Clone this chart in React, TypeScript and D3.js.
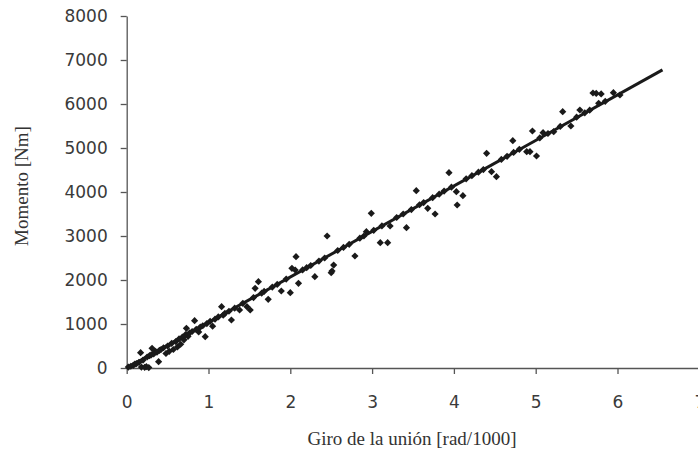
import React, { useEffect, useRef } from "react";
import * as d3 from "d3";

// Giro (rad/1000) and Momento (Nm)
const giro = [
  0.02, 0.05, 0.08, 0.1, 0.12, 0.15, 0.17, 0.18, 0.2, 0.22, 0.24, 0.25, 0.27, 0.28, 0.3, 0.31, 0.33, 0.35, 0.37, 0.39, 0.4, 0.42, 0.45, 0.48, 0.5,
  0.52, 0.55, 0.57, 0.6, 0.62, 0.64, 0.66, 0.68, 0.7, 0.72, 0.73, 0.75, 0.77, 0.8, 0.83, 0.85, 0.88, 0.9, 0.93, 0.96, 0.98,
  1.02, 1.05, 1.08, 1.12, 1.16, 1.18, 1.2, 1.25, 1.28, 1.32, 1.38, 1.42, 1.47, 1.51, 1.55, 1.57, 1.61, 1.65, 1.68, 1.73, 1.78, 1.84, 1.89, 1.95, 2.0, 2.02, 2.06, 2.07, 2.1,
  2.15, 2.2, 2.25, 2.3, 2.35, 2.42, 2.45, 2.5, 2.51, 2.53, 2.58, 2.65, 2.72, 2.79, 2.85, 2.9, 2.93, 2.99, 3.02,
  3.1, 3.12, 3.19, 3.22, 3.3, 3.38, 3.42, 3.48, 3.54, 3.58, 3.63, 3.68, 3.74, 3.77, 3.82, 3.88, 3.94, 3.97, 4.03, 4.04, 4.11,
  4.15, 4.22, 4.3, 4.36, 4.4, 4.46, 4.52, 4.58, 4.65, 4.72, 4.73, 4.8, 4.89, 4.93, 4.96, 5.01, 5.05,
  5.09, 5.15, 5.22, 5.3, 5.33, 5.43, 5.5, 5.54, 5.6, 5.66, 5.7, 5.74, 5.77, 5.8, 5.85, 5.95, 6.03,
];
const momento = [
  20, 40, 60, 90, 100, 130, 348, 20, 180, 15, 30, 250, 10, 280, 300, 447, 320, 380, 360, 144, 400, 420, 460, 330, 500,
  380, 560, 420, 600, 480, 660, 540, 700, 640, 760, 902, 720, 800, 830, 1075, 880, 820, 930, 960, 712, 1010,
  1060, 950, 1110, 1160, 1393, 1200, 1240, 1290, 1091, 1360, 1318, 1470, 1393, 1318, 1600, 1811, 1962, 1700, 1740, 1561, 1840, 1900, 1750, 2020, 1711, 2266, 2227, 2530, 1925,
  2230, 2280, 2330, 2075, 2430, 2500, 3000, 2166, 2205, 2340, 2670, 2740, 2810, 2545, 2950, 3000, 3098, 3516, 3130,
  2848, 3230, 2848, 3227, 3420, 3500, 3189, 3600, 4030, 3710, 3760, 3630, 3870, 3500, 3950, 4020, 4439, 4110, 4008, 3705, 3917,
  4300, 4370, 4450, 4510, 4880, 4462, 4348, 4740, 4810, 5166, 4900, 4970, 4917, 4917, 5386, 4818, 5230,
  5348, 5330, 5370, 5490, 5825, 5500, 5700, 5864, 5800, 5860, 6250, 6240, 6015, 6230, 6060, 6257, 6205,
];

// trend line end points
const trendX = [0, 6.55];
const trendY = [0, 6775];

const xTicks = [0, 1, 2, 3, 4, 5, 6, 7];
const yTicks = [0, 1000, 2000, 3000, 4000, 5000, 6000, 7000, 8000];

const App = () => {
  const ref = useRef<SVGSVGElement>(null);

  useEffect(() => {
    const svg = d3.select(ref.current);
    svg.selectAll("*").remove();

    const x = d3.scaleLinear().domain([0, 7]).range([126.7, 126.7 + 7 * 81.8]);
    const y = d3.scaleLinear().domain([0, 8000]).range([368, 16]);

    const axisColor = "#555";
    const labelFont = "DejaVu Sans, Verdana, sans-serif";

    // y axis
    const gy = svg
      .append("g")
      .attr("transform", `translate(${x(0)},0)`)
      .call(d3.axisLeft(y).tickValues(yTicks).tickSize(6).tickSizeOuter(0).tickPadding(13).tickFormat(d3.format("d")));
    gy.selectAll("path, line").attr("stroke", axisColor).attr("stroke-width", 1.3);
    gy.selectAll("text").attr("font-family", labelFont).attr("font-size", 17).attr("fill", "#3a3a3a");

    // x axis
    const gx = svg
      .append("g")
      .attr("transform", `translate(0,${y(0)})`)
      .call(d3.axisBottom(x).tickValues(xTicks).tickSize(6).tickSizeOuter(0).tickPadding(22).tickFormat(d3.format("d")));
    gx.selectAll("path, line").attr("stroke", axisColor).attr("stroke-width", 1.3);
    gx.selectAll("text").attr("font-family", labelFont).attr("font-size", 17).attr("fill", "#3a3a3a");

    // points
    const pts = giro.map((g, i) => ({ g, m: momento[i] }));
    const r = 3.6;
    svg
      .append("g")
      .selectAll("path")
      .data(pts)
      .enter()
      .append("path")
      .attr("d", `M0,${-r}L${r},0L0,${r}L${-r},0Z`)
      .attr("transform", (d) => `translate(${x(d.g)},${y(d.m)})`)
      .attr("fill", "#1a1a1a");

    // trend line
    svg
      .append("path")
      .datum(trendX.map((v, i) => [v, trendY[i]]))
      .attr("d", d3.line().x((d) => x(d[0])).y((d) => y(d[1])))
      .attr("stroke", "#1a1a1a")
      .attr("stroke-width", 3)
      .attr("fill", "none");

    // titles
    svg
      .append("text")
      .attr("x", 412)
      .attr("y", 445)
      .attr("text-anchor", "middle")
      .attr("font-family", "Liberation Serif, Times New Roman, serif")
      .attr("font-size", 19)
      .attr("fill", "#333")
      .text("Giro de la unión [rad/1000]");

    svg
      .append("text")
      .attr("transform", "translate(28,186) rotate(-90)")
      .attr("text-anchor", "middle")
      .attr("font-family", "Liberation Serif, Times New Roman, serif")
      .attr("font-size", 19)
      .attr("fill", "#333")
      .text("Momento [Nm]");
  }, []);

  return (
    <div style={{ position: "absolute", left: 0, top: 0 }}>
      <svg ref={ref} width={698} height={463} style={{ display: "block", background: "#fff" }} />
    </div>
  );
};

export default App;
